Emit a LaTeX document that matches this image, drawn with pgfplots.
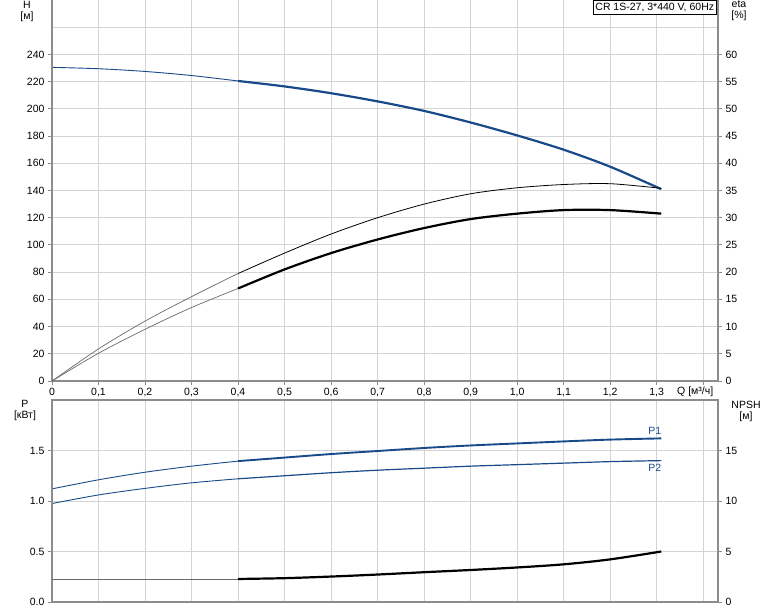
\documentclass[border=0pt]{standalone}
\usepackage{pgfplots}
\pgfplotsset{compat=1.18}
\usepackage{fontspec}
\setmainfont{Liberation Sans}
\definecolor{curveblue}{RGB}{24,74,138}
\definecolor{gridgray}{RGB}{212,212,212}
\definecolor{axisgray}{RGB}{140,140,140}
\definecolor{thingray}{RGB}{105,105,105}

\begin{document}
\begin{tikzpicture}[font=\fontsize{10.5}{12}\selectfont]
\useasboundingbox (0pt,0pt) rectangle (774pt,-611pt);
\pgfplotsset{
  base/.style={
    scale only axis, width=666pt, xmin=0, xmax=1.432,
    axis line style={draw=none},
    grid style={gridgray, line width=0.9pt},
    tick style={axisgray, line width=0.9pt},
    major tick length=4pt,
    tick align=outside,
    clip mode=individual,
    /pgf/number format/assume math mode=true,
    ticklabel style={font=\fontsize{10.5}{12}\selectfont},
  },
}

% ---- top panel: H ----
\begin{axis}[base, at={(52pt,-381pt)}, anchor=south west, height=381pt,
  ymin=0, ymax=280,
  xtick={0,0.1,0.2,0.3,0.4,0.5,0.6,0.7,0.8,0.9,1.0,1.1,1.2,1.3,1.4},
  xticklabels={0,{0,1},{0,2},{0,3},{0,4},{0,5},{0,6},{0,7},{0,8},{0,9},{1,0},{1,1},{1,2},{1,3},{}},
  ytick={0,20,...,240},
  extra y ticks={260},
  extra y tick labels={},
  extra y tick style={major tick length=0pt},
  tick pos=left,
  grid=major,
]
\addplot[curveblue, line width=0.9pt, smooth] coordinates {
  (0,230.5) (0.1,229.5) (0.2,227.5) (0.3,224.5) (0.4,220.5)
};
\addplot[curveblue, line width=2.2pt, smooth] coordinates {
  (0.4,220.5) (0.5,216.5) (0.6,211.5) (0.7,205.5) (0.8,198.5) (0.9,190)
  (1.0,180.5) (1.1,170) (1.2,157.5) (1.31,141)
};
\draw[axisgray, line width=1.8pt] (rel axis cs:0,1) -- (rel axis cs:0,0) -- (rel axis cs:1,0) -- (rel axis cs:1,1);
\node[anchor=center] at (axis cs:1.383,0) [yshift=-11pt] {Q [м³/ч]};
\end{axis}

% ---- top panel: eta ----
\begin{axis}[base, at={(52pt,-381pt)}, anchor=south west, height=381pt,
  ymin=0, ymax=70,
  xtick=\empty,
  ytick={0,5,...,60},
  ytick pos=right,
]
\addplot[thingray, line width=0.7pt, smooth] coordinates {
  (0,0) (0.1,5.9) (0.2,11) (0.3,15.5) (0.4,19.75)
};
\addplot[black, line width=0.8pt, smooth] coordinates {
  (0.4,19.75) (0.5,23.5) (0.6,27) (0.7,30) (0.8,32.5) (0.9,34.4)
  (1.0,35.5) (1.1,36.1) (1.2,36.25) (1.31,35.4)
};
\addplot[thingray, line width=0.7pt, smooth] coordinates {
  (0,0) (0.1,5.1) (0.2,9.5) (0.3,13.5) (0.4,17)
};
\addplot[black, line width=2.2pt, smooth] coordinates {
  (0.4,17) (0.5,20.5) (0.6,23.5) (0.7,26) (0.8,28.1) (0.9,29.75)
  (1.0,30.75) (1.1,31.4) (1.2,31.4) (1.31,30.75)
};
\end{axis}

% ---- bottom panel: P ----
\begin{axis}[base, at={(52pt,-602pt)}, anchor=south west, height=202pt,
  ymin=0, ymax=2,
  xtick={0,0.1,0.2,0.3,0.4,0.5,0.6,0.7,0.8,0.9,1.0,1.1,1.2,1.3,1.4},
  xticklabels={},
  xtick style={draw=none},
  ytick={0,0.5,1,1.5},
  yticklabels={0.0,0.5,1.0,1.5},
  tick pos=left,
  grid=major,
]
\addplot[curveblue, line width=0.9pt, smooth] coordinates {
  (0,1.12) (0.1,1.21) (0.2,1.285) (0.3,1.345) (0.4,1.395)
};
\addplot[curveblue, line width=1.9pt, smooth] coordinates {
  (0.4,1.395) (0.5,1.43) (0.6,1.465) (0.7,1.495) (0.8,1.525) (0.9,1.55)
  (1.0,1.57) (1.1,1.59) (1.2,1.608) (1.31,1.62)
};
\addplot[curveblue, line width=0.9pt, smooth] coordinates {
  (0,0.975) (0.1,1.06) (0.2,1.125) (0.3,1.18) (0.4,1.22)
};
\addplot[curveblue, line width=1.2pt, smooth] coordinates {
  (0.4,1.22) (0.5,1.25) (0.6,1.28) (0.7,1.305) (0.8,1.325) (0.9,1.345)
  (1.0,1.36) (1.1,1.375) (1.2,1.39) (1.31,1.40)
};
\draw[axisgray, line width=1.8pt] (rel axis cs:0,0) rectangle (rel axis cs:1,1);
\node[curveblue] at (axis cs:1.296,1.695) {P1};
\node[curveblue] at (axis cs:1.296,1.33) {P2};
\end{axis}

% ---- bottom panel: NPSH ----
\begin{axis}[base, at={(52pt,-602pt)}, anchor=south west, height=202pt,
  ymin=0, ymax=20,
  xtick=\empty,
  ytick={0,5,10,15},
  ytick pos=right,
]
\addplot[thingray, line width=0.8pt] coordinates {
  (0,2.28) (0.4,2.28)
};
\addplot[black, line width=2.2pt, smooth] coordinates {
  (0.4,2.28) (0.5,2.36) (0.6,2.52) (0.7,2.72) (0.8,2.95) (0.9,3.17)
  (1.0,3.42) (1.1,3.73) (1.2,4.22) (1.31,5.0)
};
\end{axis}

% axis titles
\node[align=center] at (27pt,-11pt) {H\\[-1pt]{[м]}};
\node[align=center] at (739pt,-11pt) {eta\\[-1pt]{[\%]}};
\node[align=center] at (25pt,-410pt) {P\\[-1pt]{[кВт]}};
\node[align=center] at (746pt,-411pt) {NPSH\\[-1pt]{[м]}};
\node[draw=black, fill=white, line width=0.8pt, anchor=north east, inner sep=2.5pt] at (717pt,0pt) {CR 1S-27, 3*440 V, 60Hz};
\end{tikzpicture}
\end{document}
